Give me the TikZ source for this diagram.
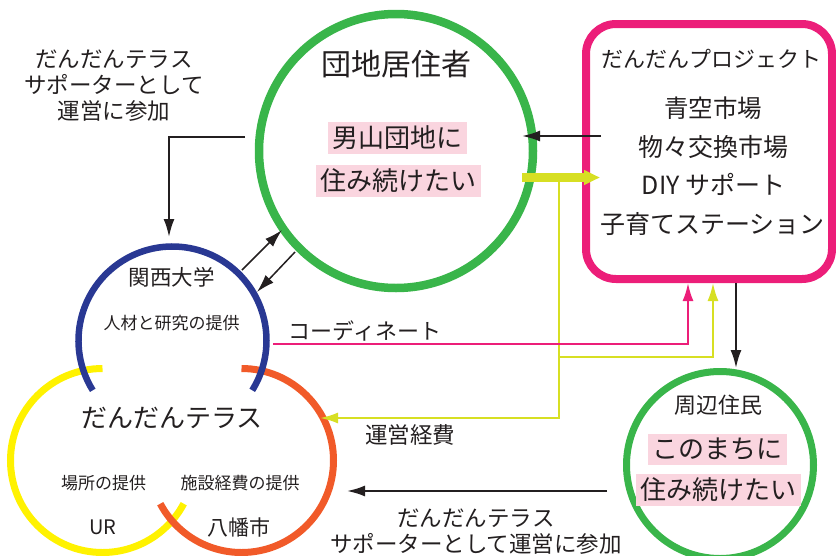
\documentclass[tikz,border=0pt]{standalone}
\usepackage{fontspec}
\setmainfont{Noto Sans CJK JP}
\usetikzlibrary{arrows.meta}
\definecolor{dink}{RGB}{35,31,32}
\definecolor{dgreen}{RGB}{57,181,74}
\definecolor{dpink}{RGB}{236,30,121}
\definecolor{dblue}{RGB}{41,56,147}
\definecolor{dyellow}{RGB}{255,242,0}
\definecolor{dorange}{RGB}{241,90,41}
\definecolor{dlime}{RGB}{215,223,35}
\definecolor{dhl}{RGB}{250,213,223}
\newcommand\jfs[1]{\fontsize{#1}{26}\selectfont}

\begin{document}
\begin{tikzpicture}[x=1pt,y=-1pt,>={Latex[length=18pt,width=11pt]},
	every node/.style={text=dink,inner sep=0pt},
	hl/.style={fill=dhl,inner xsep=4.5pt,inner ysep=4pt,font=\jfs{26}},
	blk/.style={->,draw=dink,line width=2pt},
	lim/.style={->,draw=dlime,line width=2pt},
	ring/.style={circle,draw=dgreen}]
		\useasboundingbox (0,0) rectangle (836,555);
		
		% danchi terrace
		\draw[dyellow,line width=7pt] (102.5,460.5) ++(-90:92) arc (-90:-332:92);
		\draw[dorange,line width=7pt] (241.5,460.5) ++(-90:92) arc (-90:152:92);
		\draw[dblue,line width=6.5pt] (172.5,340.5) ++(148:94) arc (148:392:94);
		
		\node[ring,line width=8.5pt,minimum size=274pt] (jyu) at (396,151) {};
		\node[ring,line width=7pt,minimum size=187pt] (kin) at (720,465) {};
		\node[draw=dpink,line width=8pt,rounded corners=30pt,minimum width=246pt,minimum height=255pt] (proj) at (709,151.5) {};
		
		\node[font=\jfs{30}] (jyut) at (396,64) {団地居住者};
		\node[hl] (jyu1) at (397.5,138) {男山団地に};
		\node[hl] (jyu2) at (398.5,180.5) {住み続けたい};
		
		\node[font=\jfs{22}] (prj0) at (711,59) {だんだんプロジェクト};
		\node[font=\jfs{24.5}] (prj1) at (713,108.5) {青空市場};
		\node[font=\jfs{25}] (prj2) at (713,147) {物々交換市場};
		\node[font=\jfs{25}] (prj3) at (713.5,184) {DIY サポート};
		\node[font=\jfs{25}] (prj4) at (712.5,224) {子育てステーション};
		
		\node[font=\jfs{21.5}] (kan) at (171.5,277) {関西大学};
		\node[font=\jfs{17}] (kan1) at (171.5,323) {人材と研究の提供};
		\node[font=\jfs{26}] (ter) at (172,418) {だんだんテラス};
		\node[font=\jfs{17}] (ur1) at (103.5,483) {場所の提供};
		\node[font=\jfs{17}] (yw1) at (240,483) {施設経費の提供};
		\node[font=\jfs{20}] (ur) at (103,527) {UR};
		\node[font=\jfs{21}] (yw) at (239,527) {八幡市};
		
		\node[font=\jfs{22}] (kint) at (718.5,405) {周辺住民};
		\node[hl] (kin1) at (717.5,449.5) {このまちに};
		\node[hl] (kin2) at (718.5,490) {住み続けたい};
		
		\node[font=\jfs{22.5},align=center] (sup1) at (114,86) {だんだんテラス\\サポーターとして\\運営に参加};
		\node[font=\jfs{22.5},align=center] (sup2) at (476,532) {だんだんテラス\\サポーターとして運営に参加};
		\node[font=\jfs{22}] (crd) at (365,331) {コーディネート};
		\node[font=\jfs{22.5}] (kei) at (410,435) {運営経費};
		
		% arrows
		\coordinate (a1) at (245,137); \coordinate (a2) at (169,237);
		\coordinate (b1) at (242,270); \coordinate (b2) at (282,230);
		\coordinate (c1) at (295,252); \coordinate (c2) at (257,292);
		\coordinate (d1) at (601,136); \coordinate (d2) at (522,136);
		\coordinate (e1) at (522,177.5); \coordinate (e2) at (600,177.5);
		\coordinate (f1) at (559,177.5); \coordinate (f2) at (320,418);
		\coordinate (g1) at (559,357); \coordinate (g2) at (713,283);
		\coordinate (h1) at (273,344); \coordinate (h2) at (688,283);
		\coordinate (i1) at (736,283); \coordinate (i2) at (736,368);
		\coordinate (j1) at (607,491); \coordinate (j2) at (347,491);
		
		\draw[blk] (a1) -| (a2);
		\draw[blk,line width=1.5pt] (b1) -- (b2);
		\draw[blk,line width=1.5pt] (c1) -- (c2);
		\draw[blk] (d1) -- (d2);
		\draw[lim] (f1) |- (f2);
		\draw[lim] (g1) -| (g2);
		\draw[lim,draw=dpink] (h1) -| (h2);
		\draw[blk] (i1) -- (i2);
		\draw[blk] (j1) -- (j2);
		\draw[dlime,line width=9pt,-{Triangle[length=16pt,width=14pt]}] (e1) -- (e2);
\end{tikzpicture}
\end{document}
